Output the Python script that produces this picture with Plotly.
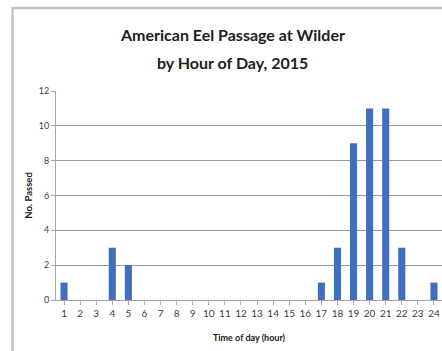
import plotly.graph_objects as go

hours = list(range(1, 25))
passed = [1, 0, 0, 3, 2, 0, 0, 0, 0, 0, 0, 0, 0, 0, 0, 0, 1, 3, 9, 11, 11, 3, 0, 1]
y_ticks = [0, 2, 4, 6, 8, 10, 12]

FONT = "Lato, sans-serif"
W, H = 442, 351
L, T, B = 56, 91, 51
pw, ph = W - L, H - T - B

fig = go.Figure(go.Bar(x=hours, y=passed, marker_color="#3F6FBF", marker_line_width=0))

fig.update_layout(
    width=W, height=H,
    margin=dict(l=L, r=0, t=T, b=B),
    paper_bgcolor="white", plot_bgcolor="white",
    bargap=0.56, showlegend=False,
    font=dict(family=FONT, color="#404040"),
    xaxis=dict(
        range=[0.5, 24.5], tickmode="array", tickvals=hours,
        ticktext=[str(h) for h in hours], tickfont=dict(size=10, color="#404040"),
        showline=True, linecolor="#a6a6a6", linewidth=1,
        ticks="outside", tickson="boundaries", ticklen=4, tickcolor="#a6a6a6",
        showgrid=False, zeroline=False,
        title=dict(text="<b>Time of day (hour)</b>", font=dict(size=9, color="#202020"), standoff=16),
    ),
    yaxis=dict(
        range=[0, 12], tickmode="array", tickvals=y_ticks,
        tickfont=dict(size=9, color="#404040"),
        showline=True, linecolor="#a6a6a6", linewidth=1,
        ticks="outside", ticklen=4, tickcolor="#a6a6a6",
        showgrid=True, gridcolor="#999999", gridwidth=1.3, zeroline=False,
        title=dict(text="<b>No. Passed</b>", font=dict(size=9.5, color="#202020"), standoff=4),
    ),
    annotations=[
        dict(text="<b>American Eel Passage at Wilder</b>", xref="paper", yref="paper",
             x=(232 - L) / pw, y=1 + (T - 35) / ph, showarrow=False,
             font=dict(size=16, color="#202020", family=FONT), xanchor="center", yanchor="middle"),
        dict(text="<b>by Hour of Day, 2015</b>", xref="paper", yref="paper",
             x=(232 - L) / pw, y=1 + (T - 62) / ph, showarrow=False,
             font=dict(size=16, color="#202020", family=FONT), xanchor="center", yanchor="middle"),
    ],
    shapes=[
        dict(type="rect", xref="paper", yref="paper",
             x0=(12.5 - L) / pw, x1=1.2, y0=-0.5, y1=1 + (T - 8) / ph,
             line=dict(color="#c4c4c4", width=2.5), fillcolor="rgba(0,0,0,0)", layer="below"),
    ],
)

fig.write_html("out.html")
